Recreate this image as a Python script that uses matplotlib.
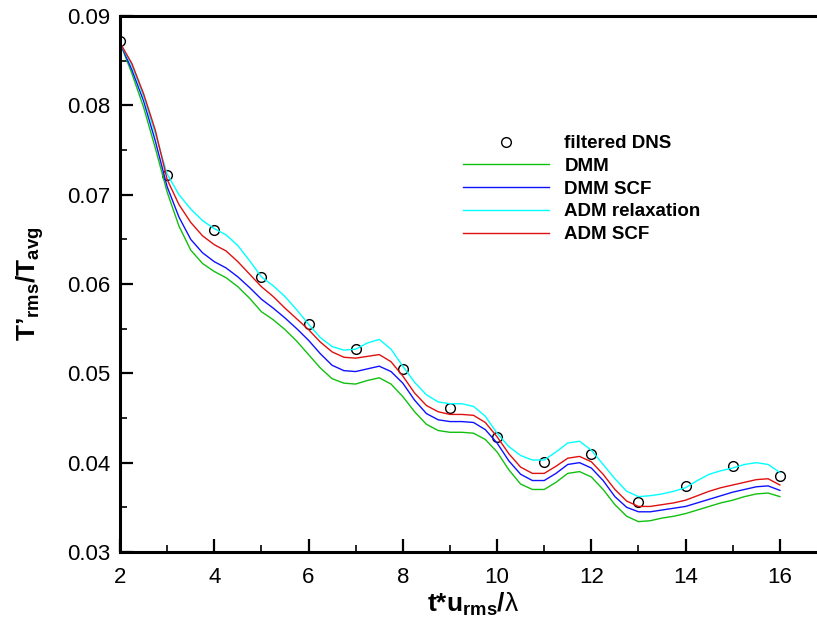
import matplotlib
matplotlib.use("Agg")
import matplotlib.pyplot as plt
from matplotlib.ticker import MultipleLocator, FormatStrFormatter

plt.rcParams['font.family'] = ['Liberation Sans', 'DejaVu Sans']
plt.rcParams['mathtext.fontset'] = 'custom'
plt.rcParams['mathtext.rm'] = 'Liberation Sans'
plt.rcParams['mathtext.bf'] = 'Liberation Sans:bold'
plt.rcParams['mathtext.it'] = 'Liberation Sans:italic'

# filtered DNS points
t_dns = [2, 3, 4, 5, 6, 7, 8, 9, 10, 11, 12, 13, 14, 15, 16]
dns = [0.0872, 0.0722, 0.0661, 0.0608, 0.0555, 0.0527, 0.0505, 0.0461,
       0.0429, 0.0401, 0.0410, 0.0356, 0.0374, 0.0396, 0.0385]

# LES curves, read every 0.25
t_les = [2.0, 2.25, 2.5, 2.75, 3.0, 3.25, 3.5, 3.75, 4.0, 4.25, 4.5, 4.75,
         5.0, 5.25, 5.5, 5.75, 6.0, 6.25, 6.5, 6.75, 7.0, 7.25, 7.5, 7.75,
         8.0, 8.25, 8.5, 8.75, 9.0, 9.25, 9.5, 9.75, 10.0, 10.25, 10.5, 10.75,
         11.0, 11.25, 11.5, 11.75, 12.0, 12.25, 12.5, 12.75, 13.0, 13.25, 13.5,
         13.75, 14.0, 14.25, 14.5, 14.75, 15.0, 15.25, 15.5, 15.75, 16.0]

dmm = [0.0870, 0.0836, 0.0798, 0.0752, 0.0703, 0.0665, 0.0638, 0.0623, 0.0614,
       0.0607, 0.0597, 0.0584, 0.0569, 0.0560, 0.0549, 0.0536, 0.0521, 0.0506,
       0.0494, 0.0489, 0.0488, 0.0492, 0.0495, 0.0488, 0.0474, 0.0457, 0.0443,
       0.0436, 0.0434, 0.0434, 0.0433, 0.0426, 0.0412, 0.0392, 0.0376, 0.0370,
       0.0370, 0.0378, 0.0388, 0.0390, 0.0384, 0.0370, 0.0353, 0.0340, 0.0334,
       0.0335, 0.0338, 0.0340, 0.0343, 0.0347, 0.0351, 0.0355, 0.0358, 0.0362,
       0.0365, 0.0366, 0.0362]

dmm_scf = [0.0870, 0.0840, 0.0805, 0.0760, 0.0709, 0.0675, 0.0650, 0.0635, 0.0625,
           0.0618, 0.0608, 0.0596, 0.0583, 0.0573, 0.0562, 0.0550, 0.0537, 0.0522,
           0.0509, 0.0503, 0.0502, 0.0505, 0.0508, 0.0502, 0.0489, 0.0470, 0.0455,
           0.0448, 0.0446, 0.0446, 0.0445, 0.0437, 0.0422, 0.0402, 0.0387, 0.0380,
           0.0380, 0.0388, 0.0398, 0.0400, 0.0394, 0.0380, 0.0362, 0.0350, 0.0345,
           0.0345, 0.0347, 0.0349, 0.0351, 0.0355, 0.0359, 0.0363, 0.0367, 0.0370,
           0.0373, 0.0374, 0.0369]

adm_relax = [0.0870, 0.0845, 0.0810, 0.0768, 0.0723, 0.0700, 0.0684, 0.0671, 0.0662,
             0.0655, 0.0643, 0.0626, 0.0608, 0.0598, 0.0586, 0.0571, 0.0555, 0.0540,
             0.0530, 0.0526, 0.0527, 0.0534, 0.0538, 0.0527, 0.0508, 0.0490, 0.0476,
             0.0468, 0.0466, 0.0466, 0.0463, 0.0452, 0.0433, 0.0418, 0.0408, 0.0403,
             0.0403, 0.0412, 0.0422, 0.0424, 0.0414, 0.0398, 0.0382, 0.0368, 0.0362,
             0.0363, 0.0365, 0.0368, 0.0372, 0.0380, 0.0387, 0.0391, 0.0394, 0.0398,
             0.0400, 0.0398, 0.0389]

adm_scf = [0.0870, 0.0847, 0.0813, 0.0772, 0.0717, 0.0689, 0.0669, 0.0654, 0.0644,
           0.0637, 0.0625, 0.0611, 0.0597, 0.0586, 0.0573, 0.0561, 0.0549, 0.0535,
           0.0524, 0.0518, 0.0517, 0.0519, 0.0521, 0.0513, 0.0497, 0.0478, 0.0464,
           0.0457, 0.0454, 0.0454, 0.0453, 0.0445, 0.0429, 0.0410, 0.0395, 0.0388,
           0.0388, 0.0396, 0.0405, 0.0407, 0.0401, 0.0387, 0.0370, 0.0357, 0.0351,
           0.0351, 0.0353, 0.0355, 0.0358, 0.0363, 0.0368, 0.0372, 0.0375, 0.0378,
           0.0381, 0.0382, 0.0375]

fig = plt.figure(figsize=(8.17, 6.27), dpi=100)
ax = fig.add_axes([120 / 817, 1 - 552 / 627, 707 / 817, 536 / 627])

ax.plot(t_dns, dns, "o", mfc="none", mec="black", ms=7, mew=1.0, label="filtered DNS")
ax.plot(t_les, dmm, color="#10c010", lw=1.0, label="DMM")
ax.plot(t_les, dmm_scf, color="#1010ff", lw=1.0, label="DMM SCF")
ax.plot(t_les, adm_relax, color="#00ffff", lw=1.0, label="ADM relaxation")
ax.plot(t_les, adm_scf, color="#e01010", lw=1.0, label="ADM SCF")

ax.set_xlim(2, 17)
ax.set_ylim(0.03, 0.09)
ax.xaxis.set_major_locator(MultipleLocator(2))
ax.xaxis.set_minor_locator(MultipleLocator(1))
ax.yaxis.set_major_locator(MultipleLocator(0.01))
ax.yaxis.set_minor_locator(MultipleLocator(0.005))
ax.yaxis.set_major_formatter(FormatStrFormatter("%.2f"))
ax.tick_params(which="both", direction="in", width=1.6, labelsize=16, pad=7)
ax.tick_params(axis="x", which="both", pad=11)
ax.tick_params(which="major", length=9.5)
ax.tick_params(which="minor", length=5, width=1.2)
for s in ax.spines.values():
    s.set_linewidth(2.2)

ax.set_xlabel(r"t*u$_\mathbf{rms}$/$\mathrm{λ}$", fontsize=19, fontweight="bold", labelpad=2)
ax.set_ylabel(r"T’$_\mathbf{rms}$/T$_\mathbf{avg}$", fontsize=19, fontweight="bold", labelpad=15)

ax.legend(loc="upper left", bbox_to_anchor=(463 / 817, 1 - 135 / 627),
          bbox_transform=fig.transFigure, frameon=False,
          prop={"weight": "bold", "size": 13.5}, handlelength=4.6,
          handletextpad=0.8, labelspacing=0.30, borderpad=0, borderaxespad=0)

plt.savefig("out.png")
